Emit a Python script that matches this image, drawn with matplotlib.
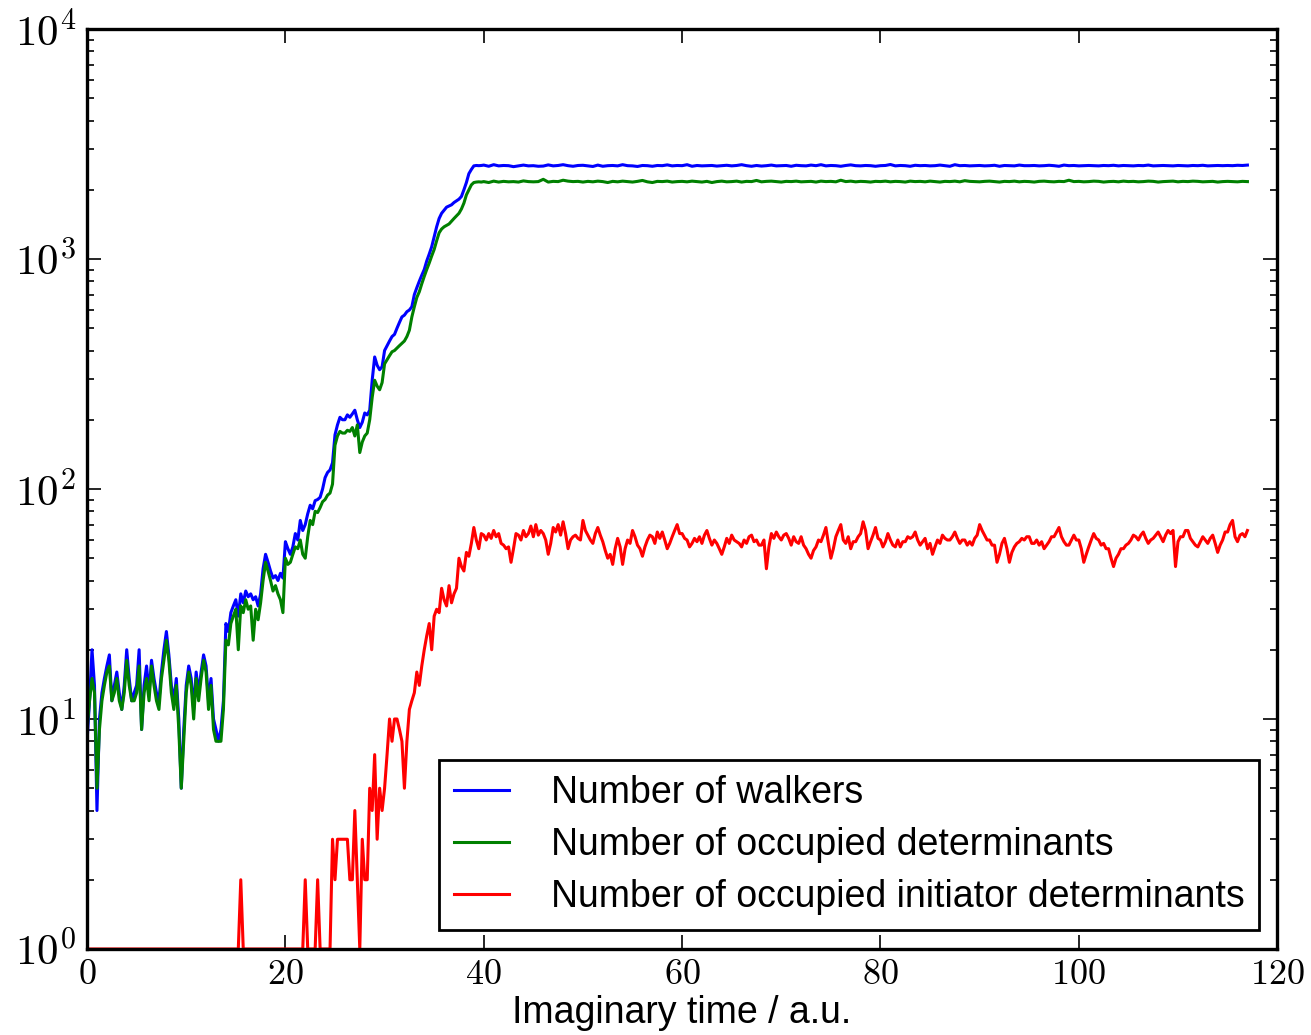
import numpy as np
import matplotlib
matplotlib.use("Agg")
from matplotlib import pyplot as plt
from matplotlib.ticker import FixedLocator, FuncFormatter, LogLocator

plt.rcParams['mathtext.fontset'] = 'cm'
plt.rcParams['font.family'] = ['Liberation Sans', 'DejaVu Sans']

# growth phase sampled every 0.25 a.u. from t = 0,
# plateau sampled every 0.5 a.u. from t = 40
walkers_growth = [
    8, 12, 20, 14, 4, 10, 13, 15,
    17, 19, 12, 14, 16, 13, 11, 14,
    20, 15, 12, 13, 14, 20, 9, 14,
    17, 13, 18, 15, 13, 12, 16, 20,
    24, 19, 14, 12, 15, 10, 5, 9,
    14, 17, 15, 11, 16, 13, 16, 19,
    17, 12, 15, 10, 9, 8, 9, 12,
    26, 24, 29, 31, 33, 28, 35, 32,
    36, 34, 35, 33, 34, 31, 35, 45,
    52, 48, 44, 41, 42, 40, 43, 41,
    59, 55, 52, 56, 64, 60, 73, 66,
    70, 78, 85, 82, 89, 90, 92, 100,
    112, 118, 121, 130, 172, 190, 205, 200,
    200, 210, 205, 212, 220, 200, 185, 195,
    214, 210, 220, 297, 375, 345, 330, 340,
    400, 420, 440, 460, 470, 500, 530, 560,
    570, 590, 600, 620, 700, 750, 800, 850,
    900, 980, 1050, 1130, 1250, 1380, 1500, 1580,
    1630, 1680, 1700, 1720, 1760, 1790, 1820, 1870,
    2000, 2150, 2350, 2450, 2540, 2550, 2545, 2550,
]
walkers_plateau = [
    2560, 2530, 2570, 2540, 2550, 2545, 2520, 2540, 2560, 2540,
    2545, 2530, 2535, 2565, 2540, 2550, 2570, 2545, 2530, 2550,
    2555, 2540, 2525, 2560, 2530, 2545, 2550, 2540, 2570, 2545,
    2540, 2525, 2550, 2545, 2530, 2550, 2545, 2565, 2540, 2550,
    2545, 2570, 2530, 2550, 2540, 2545, 2550, 2535, 2545, 2555,
    2540, 2550, 2570, 2545, 2530, 2550, 2535, 2545, 2560, 2540,
    2545, 2550, 2530, 2555, 2545, 2540, 2560, 2545, 2570, 2540,
    2550, 2545, 2530, 2550, 2565, 2545, 2540, 2550, 2545, 2530,
    2545, 2550, 2575, 2540, 2550, 2545, 2530, 2555, 2545, 2550,
    2540, 2545, 2560, 2545, 2530, 2570, 2545, 2550, 2540, 2545,
    2550, 2540, 2545, 2555, 2530, 2550, 2545, 2540, 2560, 2545,
    2545, 2550, 2540, 2545, 2555, 2545, 2530, 2560, 2545, 2550,
    2540, 2545, 2550, 2545, 2540, 2550, 2545, 2555, 2540, 2550,
    2545, 2540, 2550, 2545, 2560, 2540, 2545, 2550, 2545, 2540,
    2550, 2545, 2540, 2550, 2545, 2555, 2540, 2545, 2550, 2545,
    2550, 2545, 2555, 2550, 2560,
]

occupied_growth = [
    9, 12, 15, 13, 5, 9, 12, 14,
    16, 17, 12, 13, 15, 12, 11, 13,
    18, 14, 12, 12, 13, 17, 9, 13,
    15, 12, 17, 14, 12, 11, 15, 18,
    22, 18, 13, 11, 14, 9, 5, 8,
    13, 16, 14, 10, 15, 12, 15, 18,
    16, 11, 14, 9, 8, 8, 8, 11,
    22, 21, 26, 28, 30, 20, 31, 29,
    33, 30, 31, 22, 30, 27, 32, 40,
    48, 44, 40, 36, 38, 35, 33, 29,
    50, 47, 48, 52, 56, 55, 60, 52,
    50, 62, 73, 70, 80, 79, 83, 88,
    90, 94, 96, 105, 155, 170, 178, 175,
    175, 180, 178, 185, 170, 190, 144, 160,
    170, 175, 200, 250, 297, 280, 270, 290,
    350, 365, 380, 395, 400, 410, 420, 430,
    440, 460, 490, 560, 620, 680, 720, 780,
    840, 900, 960, 1030, 1100, 1200, 1300, 1350,
    1380, 1400, 1420, 1460, 1500, 1540, 1580, 1650,
    1750, 1900, 2000, 2100, 2150, 2160, 2165, 2160,
]
occupied_plateau = [
    2170, 2150, 2180, 2160, 2175, 2165, 2170, 2160, 2185, 2170,
    2165, 2170, 2220, 2160, 2175, 2170, 2200, 2180, 2170, 2175,
    2160, 2175, 2165, 2180, 2170, 2150, 2175, 2165, 2180, 2170,
    2160, 2175, 2195, 2165, 2150, 2175, 2170, 2180, 2160, 2170,
    2175, 2165, 2180, 2170, 2160, 2175, 2150, 2170, 2180, 2165,
    2170, 2180, 2160, 2175, 2170, 2195, 2165, 2175, 2180, 2170,
    2160, 2175, 2170, 2180, 2165, 2170, 2175, 2160, 2180, 2170,
    2175, 2165, 2200, 2170, 2180, 2165, 2175, 2170, 2160, 2175,
    2170, 2180, 2165, 2175, 2170, 2160, 2180, 2170, 2175, 2165,
    2180, 2170, 2160, 2175, 2170, 2180, 2165, 2190, 2175, 2170,
    2165, 2175, 2180, 2170, 2160, 2175, 2170, 2180, 2165, 2175,
    2170, 2160, 2175, 2180, 2170, 2165, 2175, 2170, 2200, 2170,
    2175, 2165, 2170, 2180, 2175, 2160, 2170, 2175, 2165, 2180,
    2170, 2175, 2165, 2170, 2180, 2175, 2160, 2170, 2175, 2180,
    2165, 2175, 2170, 2180, 2175, 2165, 2170, 2175, 2160, 2170,
    2175, 2170, 2165, 2175, 2170,
]

# initiators sampled every 0.25 a.u. from t = 0
initiators = (
    [1] * 62 + [2] + [1] * 25 + [2] + [1] * 4 + [2] + [1] * 5 +
    [3, 2, 3, 3, 3, 3, 3, 2, 2, 4, 2, 1, 3, 2, 2, 5, 4, 7, 3, 5, 4,
     5, 7, 10, 8, 10, 10, 9, 8, 5, 8, 11, 12, 13, 16, 14, 17,
     20, 23, 26, 20, 28, 30, 29, 37, 33, 31, 38, 32, 35, 37, 50, 46,
     44, 53, 51, 58, 68, 60, 55, 64,
     63, 60, 64, 61, 66, 62, 64, 58,
     57, 55, 56, 48, 55, 64, 63, 60,
     66, 62, 64, 69, 62, 70, 63, 66,
     64, 60, 52, 58, 68, 65, 70, 63,
     72, 64, 55, 60, 62, 63, 61, 60,
     73, 66, 63, 60, 58, 64, 68, 63,
     59, 54, 50, 52, 47, 55, 61, 56,
     47, 55, 60, 58, 66, 62, 57, 55,
     51, 56, 60, 63, 62, 58, 65, 61,
     65, 60, 55, 58, 62, 66, 70, 64,
     64, 61, 60, 56, 58, 61, 59, 62,
     58, 63, 66, 61, 57, 60, 58, 55,
     52, 56, 61, 58, 63, 60, 59, 58,
     56, 60, 58, 62, 63, 59, 60, 57,
     57, 60, 45, 56, 64, 61, 65, 62,
     60, 63, 64, 61, 57, 62, 59, 58,
     62, 57, 55, 52, 50, 54, 56, 60,
     59, 63, 68, 58, 50, 55, 62, 66,
     70, 60, 58, 62, 55, 59, 59, 62,
     64, 72, 66, 55, 59, 63, 68, 61,
     60, 56, 59, 64, 60, 57, 56, 60,
     56, 59, 59, 62, 61, 62, 65, 60,
     57, 59, 61, 55, 58, 52, 56, 60,
     58, 63, 61, 60, 60, 62, 65, 61,
     58, 60, 60, 57, 59, 57, 61, 63,
     70, 66, 63, 60, 60, 57, 57, 48,
     52, 58, 61, 55, 48, 53, 56, 58,
     59, 61, 60, 62, 62, 58, 58, 60,
     57, 59, 55, 57, 59, 62, 62, 65,
     68, 62, 59, 57, 57, 60, 63, 60,
     60, 55, 48, 52, 56, 60, 64, 61,
     60, 57, 58, 55, 55, 50, 46, 50,
     52, 55, 55, 57, 58, 60, 63, 62,
     60, 63, 65, 61, 58, 60, 61, 63,
     65, 62, 59, 63, 66, 64, 66, 46,
     59, 62, 62, 66, 66, 61, 59, 57,
     56, 59, 62, 60, 58, 61, 63, 58,
     53, 57, 60, 65, 65, 70, 73, 62,
     59, 63, 64, 62, 66]
)

labels = ["Number of walkers", "Number of occupied determinants",
          "Number of occupied initiator determinants"]
colors = ["#0000ff", "#008000", "#ff0000"]


def two_rate_time(growth, plateau):
    return np.concatenate([np.arange(len(growth)) * 0.25,
                           40 + np.arange(len(plateau)) * 0.5])


series = [
    (two_rate_time(walkers_growth, walkers_plateau), walkers_growth + walkers_plateau),
    (two_rate_time(occupied_growth, occupied_plateau), occupied_growth + occupied_plateau),
    (np.arange(len(initiators)) * 0.25, initiators),
]

fig = plt.figure(figsize=(13.11, 10.35), dpi=100)
ax = fig.add_axes([0.0664, 0.0831, 0.9078, 0.8889])

for (t, vals), lab, col in zip(series, labels, colors):
    ax.plot(t, vals, color=col, lw=2.2, label=lab)

ax.set_yscale('log')
ax.set_xlim(0, 120)
ax.set_ylim(1, 1e4)

ax.xaxis.set_major_locator(FixedLocator([0, 20, 40, 60, 80, 100, 120]))
ax.xaxis.set_major_formatter(FuncFormatter(lambda v, p: r'$\mathrm{%d}$' % v))
ax.yaxis.set_major_locator(LogLocator(base=10, numticks=10))
ax.yaxis.set_minor_locator(LogLocator(base=10, subs=np.arange(2, 10), numticks=10))
ax.yaxis.set_major_formatter(FuncFormatter(lambda v, p: r'$\mathrm{10^{%d}}$' % round(np.log10(v))))

ax.tick_params(axis='both', which='both', direction='in', top=True, right=True, width=1.2)
ax.tick_params(axis='both', which='major', length=10)
ax.tick_params(axis='y', which='minor', length=5)
ax.tick_params(axis='x', which='major', labelsize=26, pad=6)
ax.tick_params(axis='y', which='major', labelsize=31, pad=8)
for s in ax.spines.values():
    s.set_linewidth(2.4)

ax.set_xlabel("Imaginary time / a.u.", fontsize=27, labelpad=2)

leg = ax.legend(loc='lower right', fontsize=27, fancybox=False, framealpha=1,
                edgecolor='black', handlelength=1.47, labelspacing=0.43,
                borderpad=0.4, handletextpad=1.1, borderaxespad=0,
                bbox_to_anchor=(0.985, 0.0207))
leg.get_frame().set_linewidth(2.0)

fig.savefig("out.png", dpi=100)
